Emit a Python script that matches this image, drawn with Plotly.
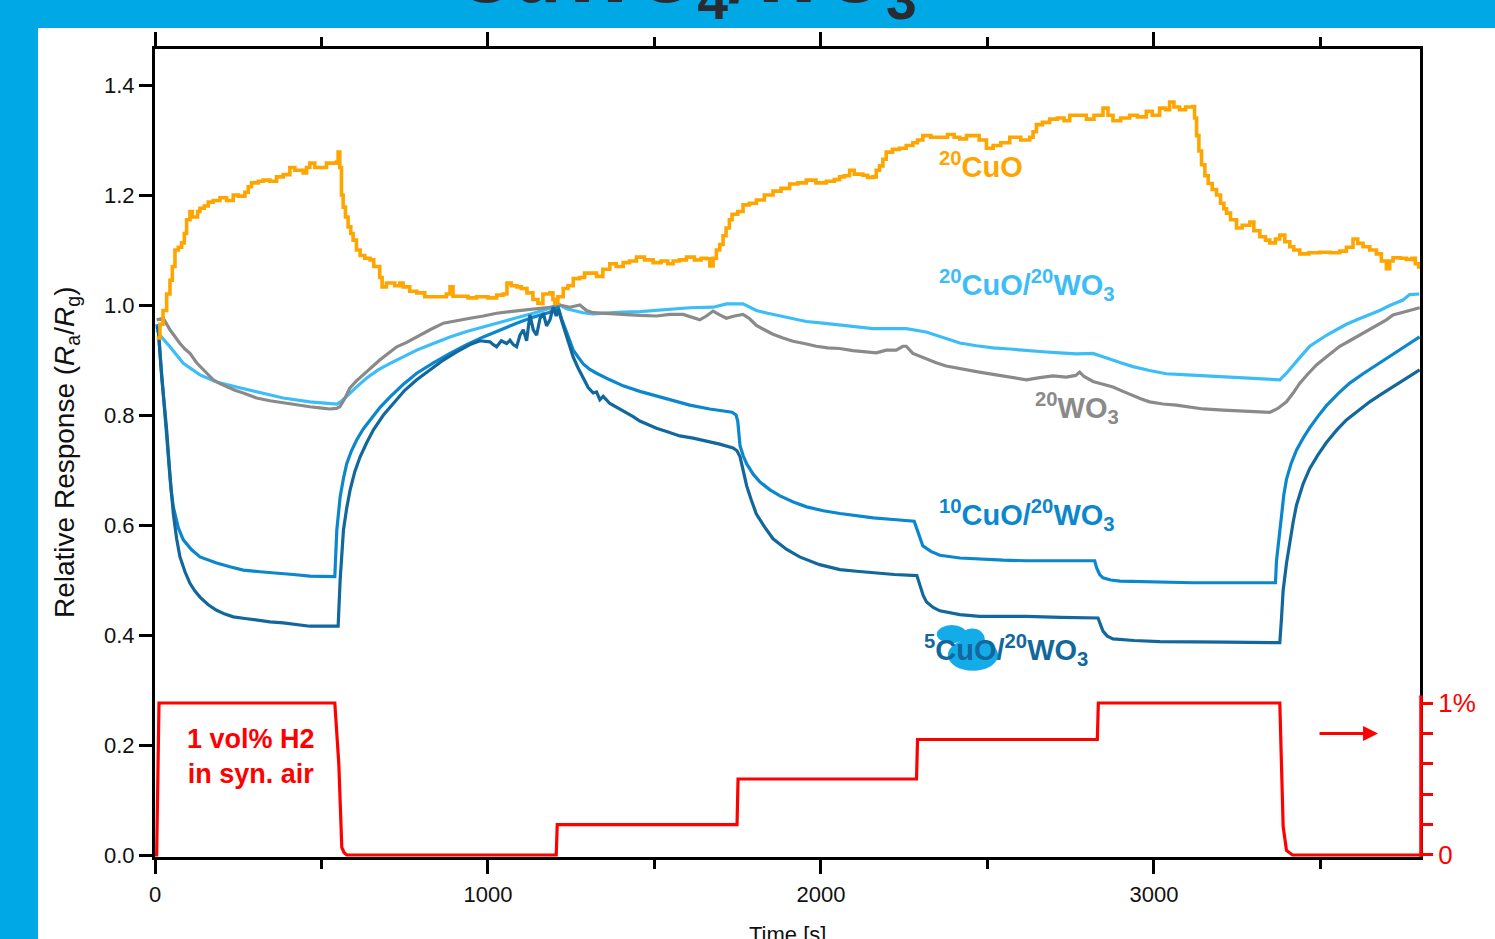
import plotly.graph_objects as go

# ---------------- data ----------------
cuo_t = [5,15,24,35,45,52,60,70,80,88,95,105,112,120,128,135,148,160,175,195,215,235,250,270,280,290,310,325,345,365,385,405,420,445,455,465,480,505,515,530,545,550,555,560,565,572,580,588,595,605,616,630,646,657,667,675,682,695,706,720,735,745,765,786,810,835,860,875,886,895,915,940,966,1000,1026,1045,1057,1070,1087,1100,1117,1135,1150,1165,1186,1195,1201,1210,1226,1240,1256,1275,1290,1306,1326,1345,1366,1385,1406,1425,1446,1470,1496,1520,1540,1556,1575,1596,1620,1640,1656,1666,1676,1686,1696,1706,1715,1725,1733,1750,1766,1785,1806,1830,1856,1880,1906,1930,1956,1985,2016,2040,2056,2070,2086,2100,2126,2140,2156,2166,2176,2186,2196,2215,2236,2256,2276,2290,2306,2330,2357,2380,2400,2417,2437,2457,2475,2497,2517,2540,2567,2600,2627,2637,2647,2665,2687,2710,2730,2747,2770,2797,2820,2847,2862,2877,2900,2927,2950,2977,2995,3017,3035,3047,3060,3077,3095,3117,3122,3128,3135,3143,3153,3163,3175,3188,3200,3210,3218,3230,3248,3265,3288,3300,3318,3335,3348,3365,3378,3393,3408,3420,3438,3465,3498,3530,3558,3578,3598,3612,3628,3648,3668,3683,3698,3708,3718,3740,3758,3775,3785,3795]
cuo_y = [0.94,0.965,0.99,1.02,1.045,1.07,1.10,1.105,1.113,1.13,1.155,1.17,1.16,1.16,1.17,1.176,1.18,1.187,1.19,1.195,1.19,1.2,1.198,1.205,1.215,1.222,1.225,1.227,1.225,1.233,1.237,1.25,1.245,1.24,1.25,1.258,1.25,1.25,1.258,1.258,1.26,1.278,1.25,1.2,1.178,1.16,1.142,1.13,1.118,1.1,1.09,1.085,1.082,1.07,1.07,1.05,1.033,1.04,1.04,1.035,1.04,1.033,1.025,1.022,1.015,1.015,1.015,1.02,1.033,1.016,1.016,1.013,1.015,1.013,1.018,1.02,1.04,1.035,1.033,1.03,1.022,1.01,1.003,1.02,1.022,1.01,1.003,1.015,1.03,1.035,1.048,1.05,1.058,1.058,1.052,1.065,1.075,1.07,1.077,1.08,1.087,1.082,1.077,1.08,1.075,1.08,1.082,1.087,1.082,1.085,1.084,1.071,1.085,1.1,1.11,1.126,1.14,1.155,1.165,1.17,1.182,1.185,1.191,1.2,1.207,1.212,1.22,1.222,1.227,1.222,1.225,1.228,1.233,1.235,1.245,1.238,1.236,1.232,1.233,1.245,1.253,1.265,1.278,1.283,1.285,1.29,1.295,1.3,1.308,1.305,1.305,1.31,1.305,1.302,1.308,1.308,1.3,1.285,1.29,1.295,1.305,1.3,1.305,1.315,1.328,1.332,1.338,1.34,1.335,1.345,1.345,1.338,1.345,1.358,1.345,1.335,1.34,1.345,1.342,1.352,1.345,1.358,1.355,1.369,1.36,1.355,1.36,1.361,1.34,1.308,1.28,1.255,1.235,1.221,1.21,1.2,1.185,1.175,1.167,1.155,1.14,1.145,1.151,1.135,1.124,1.118,1.113,1.12,1.127,1.115,1.106,1.1,1.093,1.095,1.096,1.095,1.098,1.105,1.12,1.112,1.106,1.1,1.093,1.08,1.066,1.08,1.086,1.085,1.083,1.085,1.075,1.066]

cuo20wo3_t = [5,15,45,85,135,185,245,305,385,465,546,560,575,600,635,670,706,745,786,836,886,936,986,1036,1086,1136,1186,1216,1236,1256,1285,1316,1360,1406,1456,1506,1556,1606,1676,1716,1766,1785,1806,1840,1876,1916,1956,2006,2056,2106,2156,2206,2256,2316,2345,2376,2417,2467,2517,2567,2617,2667,2717,2767,2817,2840,2867,2900,2937,2987,3037,3100,3168,3240,3318,3378,3398,3418,3443,3468,3493,3518,3548,3578,3613,3648,3678,3708,3748,3768,3797]
cuo20wo3_y = [0.955,0.945,0.924,0.894,0.873,0.86,0.851,0.842,0.831,0.824,0.82,0.825,0.833,0.848,0.867,0.882,0.894,0.906,0.918,0.93,0.942,0.952,0.96,0.968,0.976,0.985,0.994,1.0,0.993,0.99,0.986,0.984,0.986,0.987,0.988,0.99,0.992,0.995,0.996,1.002,1.002,0.996,0.99,0.985,0.98,0.975,0.97,0.967,0.964,0.96,0.957,0.957,0.957,0.951,0.945,0.938,0.931,0.926,0.922,0.92,0.917,0.915,0.913,0.911,0.912,0.908,0.902,0.895,0.888,0.881,0.875,0.873,0.871,0.868,0.866,0.864,0.876,0.891,0.908,0.925,0.935,0.945,0.955,0.965,0.974,0.982,0.99,0.999,1.009,1.019,1.02]

wo3_t = [5,25,45,60,75,90,105,125,145,160,175,195,215,240,265,285,305,345,385,425,465,495,525,545,555,570,585,605,625,650,675,700,726,756,786,826,866,906,946,986,1026,1066,1106,1146,1186,1216,1246,1276,1296,1316,1360,1406,1456,1506,1546,1586,1610,1636,1656,1676,1696,1716,1740,1766,1786,1806,1830,1856,1886,1916,1950,1986,2020,2056,2096,2136,2166,2196,2226,2246,2256,2276,2296,2316,2346,2376,2417,2467,2517,2567,2617,2657,2697,2737,2765,2777,2790,2817,2847,2877,2907,2937,2962,2987,3027,3067,3108,3148,3208,3268,3310,3348,3372,3398,3418,3438,3463,3488,3523,3558,3588,3618,3648,3678,3698,3718,3758,3798]
wo3_y = [0.973,0.976,0.955,0.942,0.93,0.92,0.912,0.895,0.882,0.872,0.864,0.857,0.851,0.845,0.84,0.835,0.831,0.826,0.822,0.818,0.815,0.813,0.811,0.812,0.815,0.83,0.849,0.862,0.873,0.886,0.9,0.912,0.924,0.932,0.942,0.955,0.967,0.972,0.976,0.98,0.985,0.988,0.991,0.993,0.996,1.0,0.996,1.0,0.99,0.986,0.984,0.983,0.981,0.98,0.983,0.983,0.978,0.973,0.98,0.989,0.982,0.976,0.98,0.983,0.975,0.963,0.955,0.947,0.94,0.934,0.93,0.925,0.922,0.921,0.917,0.915,0.913,0.918,0.918,0.925,0.925,0.912,0.907,0.902,0.895,0.889,0.884,0.879,0.874,0.869,0.864,0.868,0.871,0.869,0.872,0.878,0.87,0.861,0.856,0.851,0.843,0.835,0.829,0.824,0.82,0.818,0.815,0.811,0.809,0.807,0.806,0.805,0.812,0.824,0.84,0.858,0.875,0.891,0.908,0.925,0.935,0.945,0.955,0.965,0.973,0.982,0.989,0.995]

cuo10_t = [5,10,18,25,33,40,48,55,70,85,110,135,160,185,225,265,315,365,415,465,505,540,546,556,566,576,590,606,626,646,676,706,746,786,836,886,936,986,1036,1086,1136,1186,1211,1221,1236,1246,1256,1271,1286,1306,1326,1366,1406,1456,1506,1556,1606,1666,1733,1745,1750,1757,1767,1777,1797,1817,1847,1877,1917,1957,2007,2057,2107,2157,2217,2280,2288,2297,2306,2330,2357,2417,2477,2547,2617,2717,2822,2828,2837,2847,2870,2898,3000,3118,3240,3365,3368,3375,3383,3390,3398,3412,3428,3448,3468,3493,3518,3553,3588,3628,3668,3703,3738,3768,3798]
cuo10_y = [0.965,0.955,0.89,0.833,0.77,0.712,0.665,0.633,0.595,0.573,0.555,0.542,0.536,0.531,0.524,0.518,0.515,0.513,0.51,0.507,0.506,0.506,0.591,0.651,0.685,0.712,0.735,0.755,0.775,0.791,0.814,0.833,0.856,0.876,0.895,0.912,0.928,0.942,0.955,0.967,0.978,0.987,0.996,0.975,0.951,0.933,0.918,0.905,0.893,0.883,0.876,0.864,0.853,0.843,0.835,0.826,0.818,0.811,0.805,0.8,0.789,0.744,0.725,0.711,0.692,0.678,0.664,0.653,0.642,0.633,0.626,0.621,0.617,0.613,0.61,0.607,0.593,0.575,0.562,0.552,0.545,0.54,0.538,0.536,0.535,0.535,0.535,0.522,0.51,0.504,0.5,0.498,0.496,0.495,0.495,0.495,0.535,0.58,0.616,0.655,0.683,0.712,0.736,0.758,0.777,0.798,0.817,0.839,0.858,0.875,0.891,0.905,0.918,0.93,0.942]

cuo5_t = [5,10,20,35,45,55,65,75,90,105,120,135,160,185,210,235,270,305,345,385,425,465,510,550,556,566,576,586,600,616,636,656,686,716,750,786,826,866,906,946,976,1006,1016,1026,1040,1056,1066,1076,1086,1096,1106,1116,1126,1136,1146,1156,1166,1176,1186,1196,1205,1211,1222,1236,1246,1256,1271,1286,1301,1316,1326,1336,1346,1366,1391,1416,1436,1456,1481,1506,1541,1576,1616,1656,1696,1736,1748,1757,1767,1777,1791,1806,1830,1856,1896,1936,1996,2057,2107,2157,2220,2288,2297,2307,2317,2337,2357,2417,2477,2617,2720,2832,2840,2847,2860,2877,2940,3018,3218,3378,3383,3388,3398,3408,3418,3428,3448,3468,3493,3518,3548,3578,3613,3648,3683,3718,3758,3798]
cuo5_y = [0.96,0.955,0.87,0.773,0.69,0.621,0.575,0.542,0.515,0.494,0.48,0.469,0.455,0.445,0.438,0.433,0.43,0.427,0.424,0.422,0.419,0.416,0.416,0.416,0.5,0.591,0.632,0.664,0.697,0.724,0.75,0.773,0.8,0.822,0.845,0.864,0.882,0.9,0.915,0.928,0.935,0.933,0.928,0.924,0.935,0.93,0.936,0.928,0.924,0.945,0.955,0.935,0.982,0.955,0.945,0.975,0.985,0.962,0.973,0.996,0.98,0.993,0.97,0.944,0.925,0.905,0.885,0.866,0.85,0.84,0.842,0.828,0.834,0.821,0.813,0.805,0.797,0.789,0.782,0.776,0.769,0.762,0.758,0.753,0.747,0.74,0.735,0.724,0.7,0.671,0.645,0.62,0.597,0.575,0.556,0.542,0.528,0.519,0.516,0.513,0.51,0.508,0.489,0.472,0.46,0.45,0.444,0.437,0.434,0.434,0.432,0.431,0.418,0.407,0.398,0.393,0.39,0.388,0.387,0.386,0.43,0.481,0.53,0.569,0.605,0.636,0.675,0.703,0.728,0.75,0.772,0.791,0.808,0.824,0.838,0.851,0.866,0.882]

h2_t = [0,5,12,540,552,561,568,576,1205,1208,1748,1751,2287,2290,2830,2833,3378,3388,3398,3408,3416,3799]
h2_y = [0,0,1.0,1.0,0.6,0.05,0.015,0,0,0.2,0.2,0.5,0.5,0.76,0.76,1.0,1.0,0.19,0.03,0.01,0,0]

x_ticks = [0, 1000, 2000, 3000]
y_ticks = [0.0, 0.2, 0.4, 0.6, 0.8, 1.0, 1.2, 1.4]
y2_ticks = [0, 0.2, 0.4, 0.6, 0.8, 1.0]
y2_ticktext = ["0", "", "", "", "", "1%"]

# ---------------- styling ----------------
W, H = 1495, 939
ML, MR, MT, MB = 155, 75, 49, 82
PW, PH = W - ML - MR, H - MT - MB

def px2paper_x(px):
    return (px - ML) / PW

def py2paper_y(py):
    return (H - MB - py) / PH

ORANGE = "#FFA500"
LBLUE = "#3DBDF8"
GRAY = "#8A8A8A"
MBLUE = "#0B87CD"
DBLUE = "#12679C"
RED = "#FF0000"
BAND = "#00A9E6"
FONT = "Liberation Sans, Arial, sans-serif"

fig = go.Figure()
fig.add_trace(go.Scatter(x=cuo20wo3_t, y=cuo20wo3_y, mode="lines", line=dict(color=LBLUE, width=3.2)))
fig.add_trace(go.Scatter(x=wo3_t, y=wo3_y, mode="lines", line=dict(color=GRAY, width=3.2)))
fig.add_trace(go.Scatter(x=cuo10_t, y=cuo10_y, mode="lines", line=dict(color=MBLUE, width=3.2)))
fig.add_trace(go.Scatter(x=cuo5_t, y=cuo5_y, mode="lines", line=dict(color=DBLUE, width=3.2)))
fig.add_trace(go.Scatter(x=cuo_t, y=cuo_y, mode="lines", line=dict(color=ORANGE, width=3.6, shape="hv")))
fig.add_trace(go.Scatter(x=h2_t, y=h2_y, mode="lines", yaxis="y2", line=dict(color=RED, width=3.2)))

tickfont = dict(family=FONT, size=22, color="#111111")

fig.update_layout(
    width=W, height=H, autosize=False,
    margin=dict(l=ML, r=MR, t=MT, b=MB, pad=0),
    paper_bgcolor=BAND, plot_bgcolor="white",
    showlegend=False,
    xaxis=dict(range=[0, 3799], tickvals=x_ticks, ticks="outside", ticklen=14, tickwidth=2.5,
               tickcolor="black", showline=True, linecolor="black", linewidth=3, mirror="ticks",
               showgrid=False, zeroline=False, tickfont=tickfont, ticklabelstandoff=2,
               minor=dict(dtick=500, tick0=0, ticks="outside", ticklen=9, tickwidth=2.5,
                          tickcolor="black", showgrid=False)),
    yaxis=dict(range=[-0.0036, 1.4655], tickvals=y_ticks, tickformat=".1f", ticks="outside",
               ticklen=13, tickwidth=2.5, tickcolor="black", showline=True, linecolor="black",
               linewidth=3, mirror=True, showgrid=False, zeroline=False, tickfont=tickfont),
    yaxis2=dict(range=[-0.0132, 5.303], overlaying="y", side="right", tickvals=y2_ticks,
                ticktext=y2_ticktext, ticks="outside", ticklen=12, tickwidth=3, tickcolor=RED,
                showline=False, showgrid=False, zeroline=False,
                tickfont=dict(family=FONT, size=26, color=RED)),
)

shapes = [
    # white page over blue band
    dict(type="rect", xref="paper", yref="paper", x0=px2paper_x(38), x1=px2paper_x(1600),
         y0=py2paper_y(1000), y1=py2paper_y(28), fillcolor="white", line=dict(width=0), layer="below"),
    # red right axis segment
    dict(type="line", xref="paper", yref="y2", x0=1.0008, x1=1.0008, y0=-0.013, y1=1.05,
         line=dict(color=RED, width=3.5), layer="above"),
    # blue blob behind 5CuO label
    dict(type="circle", xref="x", yref="y", x0=2348, x1=2438, y0=0.385, y1=0.418,
         fillcolor="#14ACE8", line=dict(width=0), layer="above"),
    dict(type="circle", xref="x", yref="y", x0=2381, x1=2532, y0=0.335, y1=0.392,
         fillcolor="#14ACE8", line=dict(width=0), layer="above"),
    dict(type="circle", xref="x", yref="y", x0=2417, x1=2492, y0=0.372, y1=0.412,
         fillcolor="#14ACE8", line=dict(width=0), layer="above"),
]
fig.update_layout(shapes=shapes)

lab = lambda c, s=29: dict(family=FONT, size=s, color=c)
annotations = [
    dict(text="<b><sup>20</sup>CuO</b>", x=2348, y=1.2545, xref="x", yref="y", xanchor="left",
         yanchor="middle", showarrow=False, font=lab(ORANGE)),
    dict(text="<b><sup>20</sup>CuO/<sup>20</sup>WO<sub>3</sub></b>", x=2348, y=1.036, xref="x", yref="y",
         xanchor="left", yanchor="middle", showarrow=False, font=lab(LBLUE)),
    dict(text="<b><sup>20</sup>WO<sub>3</sub></b>", x=2637, y=0.813, xref="x", yref="y",
         xanchor="left", yanchor="middle", showarrow=False, font=lab(GRAY)),
    dict(text="<b><sup>10</sup>CuO/<sup>20</sup>WO<sub>3</sub></b>", x=2348, y=0.618, xref="x", yref="y",
         xanchor="left", yanchor="middle", showarrow=False, font=lab(MBLUE)),
    dict(text="<b><sup>5</sup>CuO/<sup>20</sup>WO<sub>3</sub></b>", x=2303, y=0.373, xref="x", yref="y",
         xanchor="left", yanchor="middle", showarrow=False, font=lab(DBLUE)),
    dict(text="<b>1 vol% H2<br>in syn. air</b>", x=px2paper_x(251), y=py2paper_y(756), xref="paper",
         yref="paper", xanchor="center", yanchor="middle", showarrow=False, font=lab(RED, 27)),
    # arrow pointing to right axis
    dict(text="", x=3673, y=0.8, xref="x", yref="y2", ax=-60, ay=0, axref="pixel", ayref="pixel",
         showarrow=True, arrowhead=2, arrowsize=1, arrowwidth=3, arrowcolor=RED),
    # axis titles
    dict(text="Relative Response (<i>R</i><sub>a</sub>/<i>R</i><sub>g</sub>)", x=px2paper_x(66),
         y=py2paper_y(452), xref="paper", yref="paper", xanchor="center", yanchor="middle",
         textangle=-90, showarrow=False, font=dict(family=FONT, size=28, color="#111111")),
    dict(text="Time [s]", x=0.5, y=py2paper_y(920), xref="paper", yref="paper", xanchor="center",
         yanchor="top", showarrow=False, font=dict(family=FONT, size=22, color="#111111")),
    # slide title (cut off at top)
    dict(text="<b>CuWO<sub>4</sub>/WO<sub>3</sub></b>", x=px2paper_x(686), y=py2paper_y(33),
         xref="paper", yref="paper", xanchor="center", yanchor="bottom", showarrow=False,
         font=dict(family=FONT, size=79, color="#2A2A33")),
]
fig.update_layout(annotations=annotations)

fig.write_html("out.html")
